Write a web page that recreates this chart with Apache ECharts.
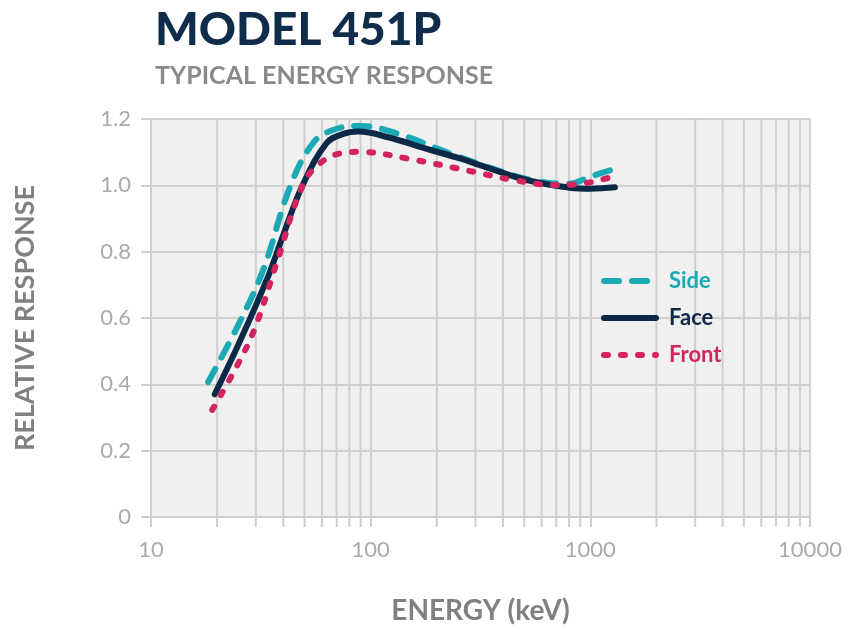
<!DOCTYPE html>
<html>
<head>
<meta charset="utf-8">
<script src="https://cdn.jsdelivr.net/npm/echarts@6/dist/echarts.min.js"></script>
<style>html,body{margin:0;padding:0;background:#fff}#c{width:851px;height:625px}</style>
</head>
<body>
<div id="c"></div>
<script>
const xTickLabels = ['10', '100', '1000', '10000'];
const yTickLabels = ['0', '0.2', '0.4', '0.6', '0.8', '1.0', '1.2'];
const minorEnergies = [20,30,40,50,60,70,80,90,200,300,400,500,600,700,800,900,2000,3000,4000,5000,6000,7000,8000,9000];

const sideData = [[18.2,0.407],[25,0.58],[32.4,0.745],[43,0.996],[54.6,1.127],[67.3,1.167],[89,1.179],[131,1.157],[230,1.096],[400,1.04],[590,1.011],[800,1.005],[961,1.021],[1107,1.036],[1318,1.051]];
const faceData = [[19.5,0.37],[25,0.52],[33.6,0.714],[40,0.85],[49,1.0],[63,1.127],[75,1.155],[88,1.162],[120,1.145],[180,1.11],[255,1.081],[314,1.061],[513,1.016],[807,0.993],[1000,0.99],[1294,0.994]];
const frontData = [[19,0.323],[24.5,0.453],[29.7,0.569],[37.3,0.765],[49,1.0],[58.7,1.066],[72.4,1.096],[89,1.101],[146,1.081],[293,1.041],[446,1.016],[703,1.001],[898,1.004],[1107,1.016],[1200,1.022]];

const SIDE = '#1aa9b5', FACE = '#0c2a47', FRONT = '#d4245f';
const GRID = '#cfcfcf';
const FONT = 'Lato';

const chart = echarts.init(document.getElementById('c'));
chart.setOption({
  animation: false,
  backgroundColor: '#ffffff',
  title: {
    text: 'MODEL 451P',
    subtext: 'TYPICAL ENERGY RESPONSE',
    left: 150, top: 2,
    itemGap: 10,
    textStyle: { fontFamily: FONT, fontSize: 46, fontWeight: 900, color: '#0f2d4a' },
    subtextStyle: { fontFamily: FONT, fontSize: 25, fontWeight: 'bold', color: '#8a8a8a' }
  },
  grid: {
    left: 151, right: 41, top: 119, bottom: 108,
    outerBoundsMode: 'none', containLabel: false,
    show: true, backgroundColor: '#f0f0f0', borderWidth: 0
  },
  legend: {
    data: [
      { name: 'Side', textStyle: { color: SIDE } },
      { name: 'Face', textStyle: { color: FACE } },
      { name: 'Front', textStyle: { color: FRONT } }
    ],
    orient: 'vertical',
    left: 596, top: 265,
    itemWidth: 52, itemHeight: 14, itemGap: 15,
    itemStyle: { opacity: 0 },
    lineStyle: { width: 6 },
    textStyle: { fontFamily: FONT, fontSize: 22, fontWeight: 'bold', padding: [0, 0, 0, 8] }
  },
  xAxis: {
    type: 'log', logBase: 10, min: 10, max: 10000,
    name: 'ENERGY (keV)', nameLocation: 'middle', nameGap: 80,
    nameTextStyle: { fontFamily: FONT, fontSize: 28, fontWeight: 'bold', color: '#808080' },
    axisLine: { show: true, lineStyle: { color: GRID, width: 2 } },
    axisTick: { show: true, length: 10, lineStyle: { color: GRID, width: 2 } },
    axisLabel: { fontFamily: FONT, fontSize: 22, color: '#aaaaaa', margin: 22,
      formatter: v => xTickLabels.find(t => Number(t) === Math.round(v)) || '' },
    splitLine: { show: true, lineStyle: { color: GRID, width: 2 } }
  },
  yAxis: {
    type: 'value', min: 0, max: 1.2, interval: 0.2,
    name: 'RELATIVE RESPONSE', nameLocation: 'middle', nameGap: 112, nameRotate: 90,
    nameTextStyle: { fontFamily: FONT, fontSize: 27, fontWeight: 'bold', color: '#808080' },
    axisLine: { show: true, lineStyle: { color: GRID, width: 2 } },
    axisTick: { show: true, length: 10, lineStyle: { color: GRID, width: 2 } },
    axisLabel: { fontFamily: FONT, fontSize: 22, color: '#aaaaaa', margin: 20,
      formatter: (v, i) => yTickLabels[i] },
    splitLine: { show: true, lineStyle: { color: GRID, width: 2 } }
  },
  series: [
    {
      name: 'minor', type: 'custom', silent: true, clip: false, z: 1,
      data: minorEnergies.map(v => [v, 0]),
      encode: { x: 0, y: 1 },
      renderItem: (params, api) => {
        const v = api.value(0);
        const top = api.coord([v, 1.2]);
        const bot = api.coord([v, 0]);
        return { type: 'line', shape: { x1: top[0], y1: top[1], x2: bot[0], y2: bot[1] + 10 },
          style: { stroke: GRID, lineWidth: 2 } };
      }
    },
    {
      name: 'Side', type: 'line', data: sideData, smooth: 0.4, symbol: 'none', z: 3,
      lineStyle: { color: SIDE, width: 6, type: [15, 13], cap: 'round' },
      itemStyle: { color: SIDE }
    },
    {
      name: 'Face', type: 'line', data: faceData, smooth: 0.4, symbol: 'none', z: 4,
      lineStyle: { color: FACE, width: 6, cap: 'round' },
      itemStyle: { color: FACE }
    },
    {
      name: 'Front', type: 'line', data: frontData, smooth: 0.4, symbol: 'none', z: 5,
      lineStyle: { color: FRONT, width: 6, type: [4, 13], cap: 'round' },
      itemStyle: { color: FRONT }
    }
  ]
});
</script>
</body>
</html>
